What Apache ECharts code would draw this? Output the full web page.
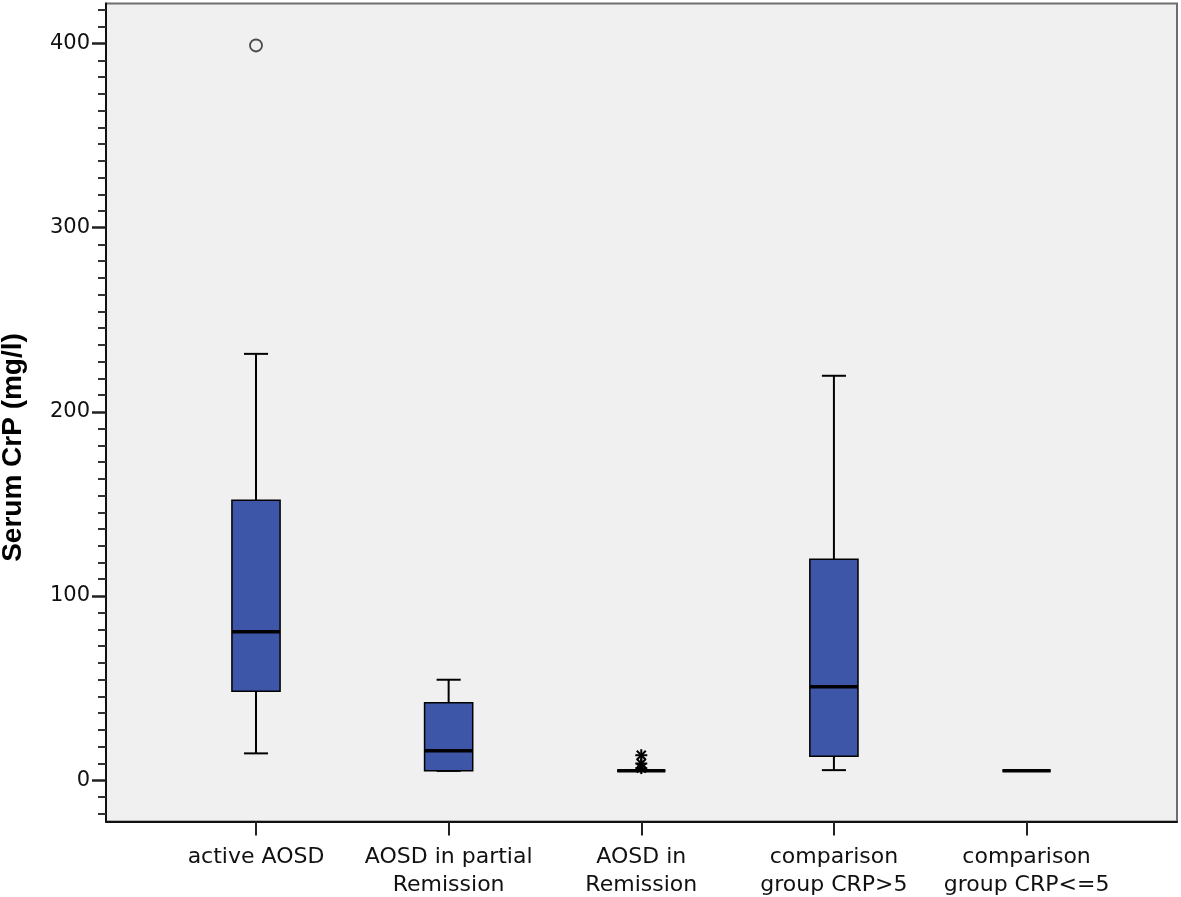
<!DOCTYPE html>
<html>
<head>
<meta charset="utf-8">
<script src="https://cdn.jsdelivr.net/npm/echarts@6/dist/echarts.min.js"></script>
<style>
  html, body { margin: 0; padding: 0; background: #ffffff; }
  #chart { width: 1181px; height: 897px; }
</style>
</head>
<body>
<div id="chart"></div>
<script>
// ---- data ----
const categories = ['active AOSD', 'AOSD in partial\nRemission', 'AOSD in\nRemission', 'comparison\ngroup CRP>5', 'comparison\ngroup CRP<=5'];
const categoryPos = [1, 2, 3, 4, 5];
const lowerWhisker = [14.5, 5, 5, 5.4, 5];
const q1 = [48.3, 5, 5, 13, 5];
const median = [80.6, 15.9, 5, 50.7, 5];
const q3 = [152, 42, 5, 120, 5];
const upperWhisker = [231.5, 54.5, 5, 219.6, 5];
const outlierPos = [1];
const outlierVal = [399];
const extremePos = [3, 3, 3];
const extremeVal = [13.5, 9, 6.5];
const yTickLabels = [0, 100, 200, 300, 400];
const yMin = -22.5, yMax = 421.8;

// minor tick positions (100 split into 11 parts, as in the reference)
const minorTicks = [];
for (let k = -2; k <= 46; k++) {
  if (k % 11 !== 0) minorTicks.push(+(k * 100 / 11).toFixed(4));
}

const boxData = categoryPos.map((p, i) => [p, lowerWhisker[i], q1[i], median[i], q3[i], upperWhisker[i]]);
const outlierData = outlierPos.map((p, i) => [p, outlierVal[i]]);
const extremeData = extremePos.map((p, i) => [p, extremeVal[i]]);

const chart = echarts.init(document.getElementById('chart'), null, { renderer: 'canvas' });

function renderBox(params, api) {
  const x = api.value(0);
  const lo = api.coord([x, api.value(1)]);
  const b1 = api.coord([x, api.value(2)]);
  const md = api.coord([x, api.value(3)]);
  const b3 = api.coord([x, api.value(4)]);
  const hi = api.coord([x, api.value(5)]);
  const w = api.size([0.25, 0])[0];
  const cap = w / 2;
  const cx = md[0];
  const ls = { stroke: '#000', lineWidth: 2 };
  return {
    type: 'group',
    children: [
      { type: 'line', shape: { x1: cx, y1: hi[1], x2: cx, y2: b3[1] }, style: ls },
      { type: 'line', shape: { x1: cx, y1: b1[1], x2: cx, y2: lo[1] }, style: ls },
      { type: 'line', shape: { x1: cx - cap / 2, y1: hi[1], x2: cx + cap / 2, y2: hi[1] }, style: ls },
      { type: 'line', shape: { x1: cx - cap / 2, y1: lo[1], x2: cx + cap / 2, y2: lo[1] }, style: ls },
      { type: 'rect', shape: { x: cx - w / 2, y: b3[1], width: w, height: b1[1] - b3[1] },
        style: { fill: '#3d56a8', stroke: '#000', lineWidth: 1.5 } },
      { type: 'line', shape: { x1: cx - w / 2, y1: md[1], x2: cx + w / 2, y2: md[1] },
        style: { stroke: '#000', lineWidth: 3.5 } }
    ]
  };
}

function renderStar(params, api) {
  const p = api.coord([api.value(0), api.value(1)]);
  const r = 6;
  const d = r * 0.75;
  const st = { stroke: '#000', lineWidth: 2 };
  return {
    type: 'group',
    children: [
      { type: 'line', shape: { x1: p[0], y1: p[1] - r, x2: p[0], y2: p[1] + r }, style: st },
      { type: 'line', shape: { x1: p[0] - r, y1: p[1], x2: p[0] + r, y2: p[1] }, style: st },
      { type: 'line', shape: { x1: p[0] - d, y1: p[1] - d, x2: p[0] + d, y2: p[1] + d }, style: st },
      { type: 'line', shape: { x1: p[0] - d, y1: p[1] + d, x2: p[0] + d, y2: p[1] - d }, style: st }
    ]
  };
}

const labelFont = 'DejaVu Sans';

chart.setOption({
  animation: false,
  backgroundColor: '#ffffff',
  grid: {
    left: 106, right: 4, top: 3.5, bottom: 75.5,
    outerBoundsMode: 'none', containLabel: false,
    show: true, backgroundColor: '#f0f0f0', borderColor: '#6e6e6e', borderWidth: 2
  },
  xAxis: {
    type: 'value', min: 0.2213, max: 5.781,
    splitLine: { show: false },
    axisLine: { show: true, onZero: false, lineStyle: { color: '#111', width: 2 } },
    axisTick: { show: true, customValues: categoryPos, length: 14, lineStyle: { color: '#222', width: 2 } },
    axisLabel: {
      customValues: categoryPos,
      formatter: v => categories[Math.round(v) - 1] || '',
      fontFamily: labelFont, fontSize: 22, lineHeight: 28, color: '#111', margin: 22
    }
  },
  yAxis: [{
    type: 'value', min: yMin, max: yMax,
    splitLine: { show: false },
    axisLine: { show: true, onZero: false, lineStyle: { color: '#111', width: 2 } },
    axisTick: { show: true, customValues: yTickLabels, length: 14, lineStyle: { color: '#222', width: 2.5 } },
    axisLabel: {
      customValues: yTickLabels,
      fontFamily: labelFont, fontSize: 21, color: '#111', margin: 16, padding: [7, 0, 0, 0]
    },
    name: 'Serum CrP (mg/l)',
    nameLocation: 'middle',
    nameGap: 79,
    nameTextStyle: { fontFamily: 'Liberation Sans', fontWeight: 'bold', fontSize: 28, color: '#000', padding: [0, 70, 0, 0] }
  }, {
    type: 'value', min: yMin, max: yMax, position: 'left',
    splitLine: { show: false },
    axisLine: { show: false },
    axisLabel: { show: false },
    axisTick: { show: true, customValues: minorTicks, length: 8, lineStyle: { color: '#333', width: 2 } }
  }],
  series: [{
    type: 'custom', name: 'box', renderItem: renderBox, data: boxData,
    encode: { x: 0, y: [1, 2, 3, 4, 5] }, z: 3
  }, {
    type: 'scatter', name: 'outliers', data: outlierData, symbol: 'circle', symbolSize: 12,
    itemStyle: { color: 'rgba(0,0,0,0)', borderColor: '#222', borderWidth: 1.8 }, z: 4
  }, {
    type: 'custom', name: 'extremes', renderItem: renderStar, data: extremeData,
    encode: { x: 0, y: 1 }, z: 4
  }]
});
</script>
</body>
</html>
